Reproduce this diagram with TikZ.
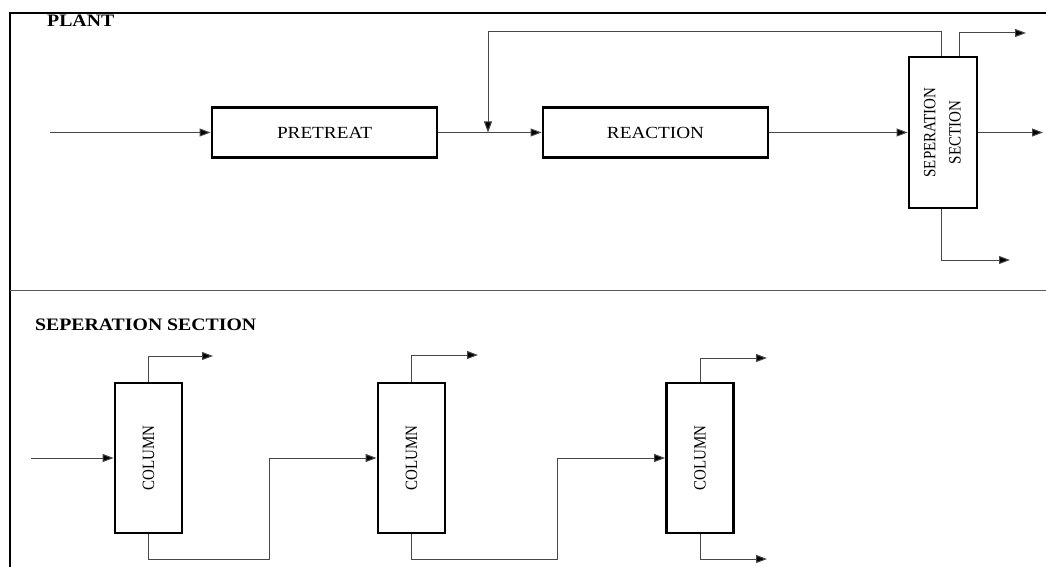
\documentclass[tikz,border=0pt]{standalone}
\usepackage{fontspec}
\usepackage{graphicx}
\setmainfont{Liberation Serif}
\usetikzlibrary{arrows.meta,calc}

% slightly widened lettering (horizontal text) and its rotated counterpart
\newcommand{\wide}[1]{\scalebox{1.13}[1]{#1}}
\newcommand{\tall}[1]{\scalebox{1}[1.15]{#1}}

\tikzset{
  unit/.style={draw=black, line width=2.8pt, rectangle, inner sep=0pt,
               fill=white, font=\fontsize{17}{20}\selectfont},
  hbox/.style={unit, minimum width=225pt, minimum height=50pt},
  colbox/.style={unit, rotate=90, font=\fontsize{15}{18}\selectfont,
                 minimum width=150pt, minimum height=67pt},
  flow/.style={draw=black!72, line width=1pt,
               -{Triangle[length=11pt,width=8pt,fill=black]}},
  title/.style={font=\fontsize{17.5}{20}\selectfont\bfseries, inner sep=0pt},
  frame/.style={line width=2pt, black},
  divider/.style={line width=1pt, black!65}
}

\begin{document}
\begin{tikzpicture}[x=1pt, y=-1pt]
\useasboundingbox (0,0) rectangle (1046,567);

% panel frame
\draw[frame] (1046,13) -- (10,13) -- (10,567);
\draw[divider] (10,290) -- (1046,290);

% ---------- plant overview ----------
\node[title, anchor=base west] (plant) at (47,27) {\wide{PLANT}};

\node[hbox] (pre) at (324.5,132.5) {\wide{PRETREAT}};
\node[hbox] (rea) at (655.5,132.5) {\wide{REACTION}};
% rotated unit: north = left side, south = right side, east = top, west = bottom
\node[unit, minimum width=151pt, minimum height=68pt, rotate=90,
      font=\fontsize{15}{22}\selectfont]
      (sep) at (943,132.5)
      {\tall{\begin{tabular}{@{}c@{}}SEPERATION\\SECTION\end{tabular}}};

\coordinate (feed)  at (50,132.5);
\coordinate (mix)   at (488,132.5);
\coordinate (rtop)  at (488,32);
\coordinate (vap)   at (1026,33);
\coordinate (side)  at (1043,132.5);
\coordinate (btm)   at (1010,260);

\draw[flow] (feed) -- (pre.west);
\draw[flow] (pre.east) -- (rea.west);
\draw[flow] (rea.east) -- (sep.north);
\draw[flow] ([xshift=-2pt]sep.east) |- (rtop) -- (mix);
\draw[flow] ([xshift=16pt]sep.east) |- (vap);
\draw[flow] (sep.south) -- (side);
\draw[flow] ([xshift=-2pt]sep.west) |- (btm);

% ---------- separation section ----------
\node[title, anchor=base west] (septitle) at (35,330) {\wide{SEPERATION SECTION}};

\node[colbox] (c1) at (148.5,458) {\tall{COLUMN}};
\node[colbox] (c2) at (411.5,458) {\tall{COLUMN}};
\node[colbox] (c3) at (700,458)   {\tall{COLUMN}};

\coordinate (cin)  at (31,458);
\coordinate (c1t)  at (213,356);
\coordinate (j1)   at (269,559);
\coordinate (c2t)  at (478,355);
\coordinate (j2)   at (557,559);
\coordinate (c3t)  at (767,358);
\coordinate (c3b)  at (767,559);

\draw[flow] (cin) -- (c1.north);
\draw[flow] (c1.east) |- (c1t);
\draw[flow] (c1.west) |- (j1) |- (c2.north);
\draw[flow] (c2.east) |- (c2t);
\draw[flow] (c2.west) |- (j2) |- (c3.north);
\draw[flow] (c3.east) |- (c3t);
\draw[flow] (c3.west) |- (c3b);
\end{tikzpicture}
\end{document}
